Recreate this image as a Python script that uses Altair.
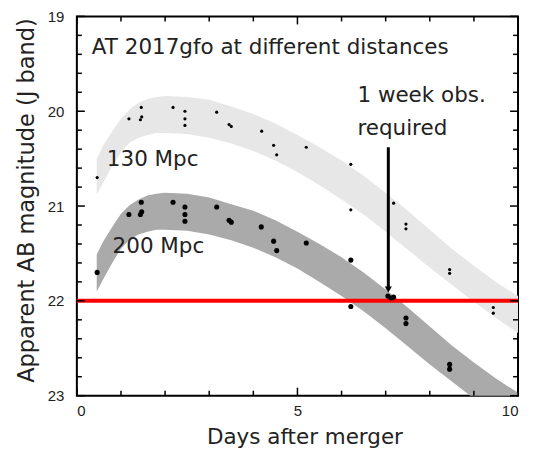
import altair as alt
import pandas as pd

# ---- data ----
band_days = [0.45, 0.6, 0.8, 1.0, 1.2, 1.4, 1.6, 1.8, 2.0, 2.5, 3.0, 3.5, 4.0, 4.5,
             5.0, 5.5, 6.0, 6.5, 7.0, 7.5, 8.0, 8.5, 9.0, 9.5, 10.0]
light_upper = [20.50, 20.36, 20.21, 20.08, 19.98, 19.91, 19.87, 19.85, 19.84, 19.85, 19.88, 19.95, 20.03, 20.13,
               20.25, 20.38, 20.52, 20.68, 20.86, 21.05, 21.25, 21.45, 21.63, 21.80, 21.95]
light_lower = [20.88, 20.75, 20.58, 20.43, 20.33, 20.28, 20.25, 20.23, 20.23, 20.24, 20.28, 20.34, 20.42, 20.52,
               20.64, 20.78, 20.93, 21.09, 21.27, 21.46, 21.65, 21.83, 22.01, 22.18, 22.34]
dark_upper = [21.51, 21.37, 21.22, 21.08, 20.99, 20.93, 20.89, 20.87, 20.86, 20.87, 20.91, 20.98, 21.05, 21.15,
              21.27, 21.40, 21.54, 21.70, 21.88, 22.07, 22.27, 22.47, 22.65, 22.82, 22.97]
dark_lower = [21.90, 21.77, 21.60, 21.45, 21.35, 21.30, 21.27, 21.25, 21.25, 21.26, 21.30, 21.36, 21.44, 21.54,
              21.66, 21.80, 21.95, 22.11, 22.29, 22.48, 22.67, 22.85, 23.03, 23.20, 23.36]

pts130_day = [0.46, 1.18, 1.46, 1.44, 1.47, 2.18, 2.45, 2.45, 2.45, 3.17, 3.45, 3.50,
              4.19, 4.46, 4.53, 5.20, 6.21, 6.21, 7.18, 7.46, 7.46, 8.45, 8.45, 9.44, 9.44]
pts130_mag = [20.70, 20.08, 19.96, 20.09, 20.06, 19.96, 20.00, 20.08, 20.15, 20.01, 20.14, 20.16,
              20.21, 20.36, 20.46, 20.38, 20.56, 21.04, 20.97, 21.19, 21.24, 21.67, 21.71, 22.07, 22.13]

pts200_day = [0.46, 1.18, 1.46, 1.44, 1.47, 2.18, 2.45, 2.45, 2.45, 3.17, 3.45, 3.50,
              4.18, 4.46, 4.53, 5.20, 6.21, 6.21, 7.05, 7.12, 7.18, 7.46, 7.46, 8.45, 8.45]
pts200_mag = [21.70, 21.09, 20.96, 21.09, 21.06, 20.96, 21.01, 21.09, 21.16, 21.01, 21.15, 21.17,
              21.22, 21.37, 21.47, 21.39, 21.57, 22.06, 21.95, 21.97, 21.96, 22.18, 22.24, 22.67, 22.72]

limit_mag = [22.0]

arrow_day = [7.06]
arrow_top = [20.38]
arrow_tip = [21.88]

annot_text = ["AT 2017gfo at different distances", "130 Mpc", "200 Mpc", "1 week obs.", "required"]
annot_day = [0.34, 0.68, 0.81, 6.36, 6.36]
annot_mag = [19.33, 20.51, 21.43, 19.84, 20.19]

x_major = [0, 5, 10]
x_minor = [1, 2, 3, 4, 6, 7, 8, 9]
y_major = [19, 20, 21, 22, 23]
y_minor = [19.2, 19.4, 19.6, 19.8, 20.2, 20.4, 20.6, 20.8, 21.2, 21.4, 21.6, 21.8,
           22.2, 22.4, 22.6, 22.8]

W, H = 442, 380

xs = alt.Scale(domain=[0, 10], nice=False, zero=False)
ys = alt.Scale(domain=[19, 23], reverse=True, nice=False, zero=False)

x_axis = alt.Axis(values=x_major, title="Days after merger", grid=False, ticks=False, domain=False,
                  labelFont="Liberation Sans", labelFontSize=15, labelColor="#222", labelPadding=8,
                  titleFont="DejaVu Sans", titleFontSize=21.5, titleFontWeight="normal", titleColor="#222",
                  titleAlign="center", titleBaseline="alphabetic", titleX=228, titleY=48)
y_axis = alt.Axis(values=y_major, title="Apparent AB magnitude (J band)", grid=False, ticks=False, domain=False,
                  labelFont="Liberation Sans", labelFontSize=15, labelColor="#222", labelPadding=13,
                  titleFont="DejaVu Sans", titleFontSize=22.5, titleFontWeight="normal", titleColor="#222",
                  titleAngle=270, titleAlign="center", titleBaseline="alphabetic", titleX=-43, titleY=184)


def X(f):
    return alt.X(f, type="quantitative", scale=xs, axis=x_axis)


def Y(f):
    return alt.Y(f, type="quantitative", scale=ys, axis=y_axis)


bands = pd.DataFrame({"day": band_days, "lu": light_upper, "ll": light_lower,
                      "du": dark_upper, "dl": dark_lower})

light = alt.Chart(bands).mark_area(color="#e7e7e7", clip=True).encode(
    x=X("day"), y=Y("lu"), y2="ll")
dark = alt.Chart(bands).mark_area(color="#aaaaaa", clip=True).encode(
    x=X("day"), y=Y("du"), y2="dl")

red = alt.Chart(pd.DataFrame({"mag": limit_mag})).mark_rule(color="#ff0000", strokeWidth=4).encode(
    y=Y("mag"))

p130 = alt.Chart(pd.DataFrame({"day": pts130_day, "mag": pts130_mag})).mark_circle(
    color="black", opacity=1, size=10).encode(x=X("day"), y=Y("mag"))
p200 = alt.Chart(pd.DataFrame({"day": pts200_day, "mag": pts200_mag})).mark_circle(
    color="black", opacity=1, size=26).encode(x=X("day"), y=Y("mag"))

arrow_df = pd.DataFrame({"day": arrow_day, "top": arrow_top, "tip": arrow_tip})
arrow_line = alt.Chart(arrow_df).mark_rule(color="black", strokeWidth=3).encode(
    x=X("day"), y=Y("top"), y2="tip")
arrow_head = alt.Chart(arrow_df).mark_point(shape="triangle-down", filled=True, color="black",
                                            opacity=1, size=50).encode(x=X("day"), y=Y("tip"))

texts = alt.Chart(pd.DataFrame({"day": annot_day, "mag": annot_mag, "t": annot_text})).mark_text(
    align="left", baseline="middle", font="DejaVu Sans", fontSize=21.5, color="#222").encode(
    x=X("day"), y=Y("mag"), text="t:N")


def xticks(vals, length):
    df = pd.DataFrame({"v": vals})
    b = alt.Chart(df).mark_rule(color="black", strokeWidth=1.5).encode(
        x=X("v"), y=alt.value(H), y2=alt.value(H - length))
    t = alt.Chart(df).mark_rule(color="black", strokeWidth=1.5).encode(
        x=X("v"), y=alt.value(0), y2=alt.value(length))
    return [b, t]


def yticks(vals, length):
    df = pd.DataFrame({"v": vals})
    l = alt.Chart(df).mark_rule(color="black", strokeWidth=1.5).encode(
        y=Y("v"), x=alt.value(0), x2=alt.value(length))
    r = alt.Chart(df).mark_rule(color="black", strokeWidth=1.5).encode(
        y=Y("v"), x=alt.value(W), x2=alt.value(W - length))
    return [l, r]


tick_layers = xticks(x_major, 8) + xticks(x_minor, 5) + yticks(y_major, 8) + yticks(y_minor, 5)

chart = alt.layer(light, dark, red, p130, p200, arrow_line, arrow_head, texts, *tick_layers).properties(
    width=W, height=H,
    padding={"left": 69, "top": 8, "right": 10, "bottom": 54},
    autosize=alt.AutoSizeParams(type="none"),
).configure_view(stroke="black", strokeWidth=2)

chart.save("out.html", embed_options={"renderer": "svg", "actions": False})
